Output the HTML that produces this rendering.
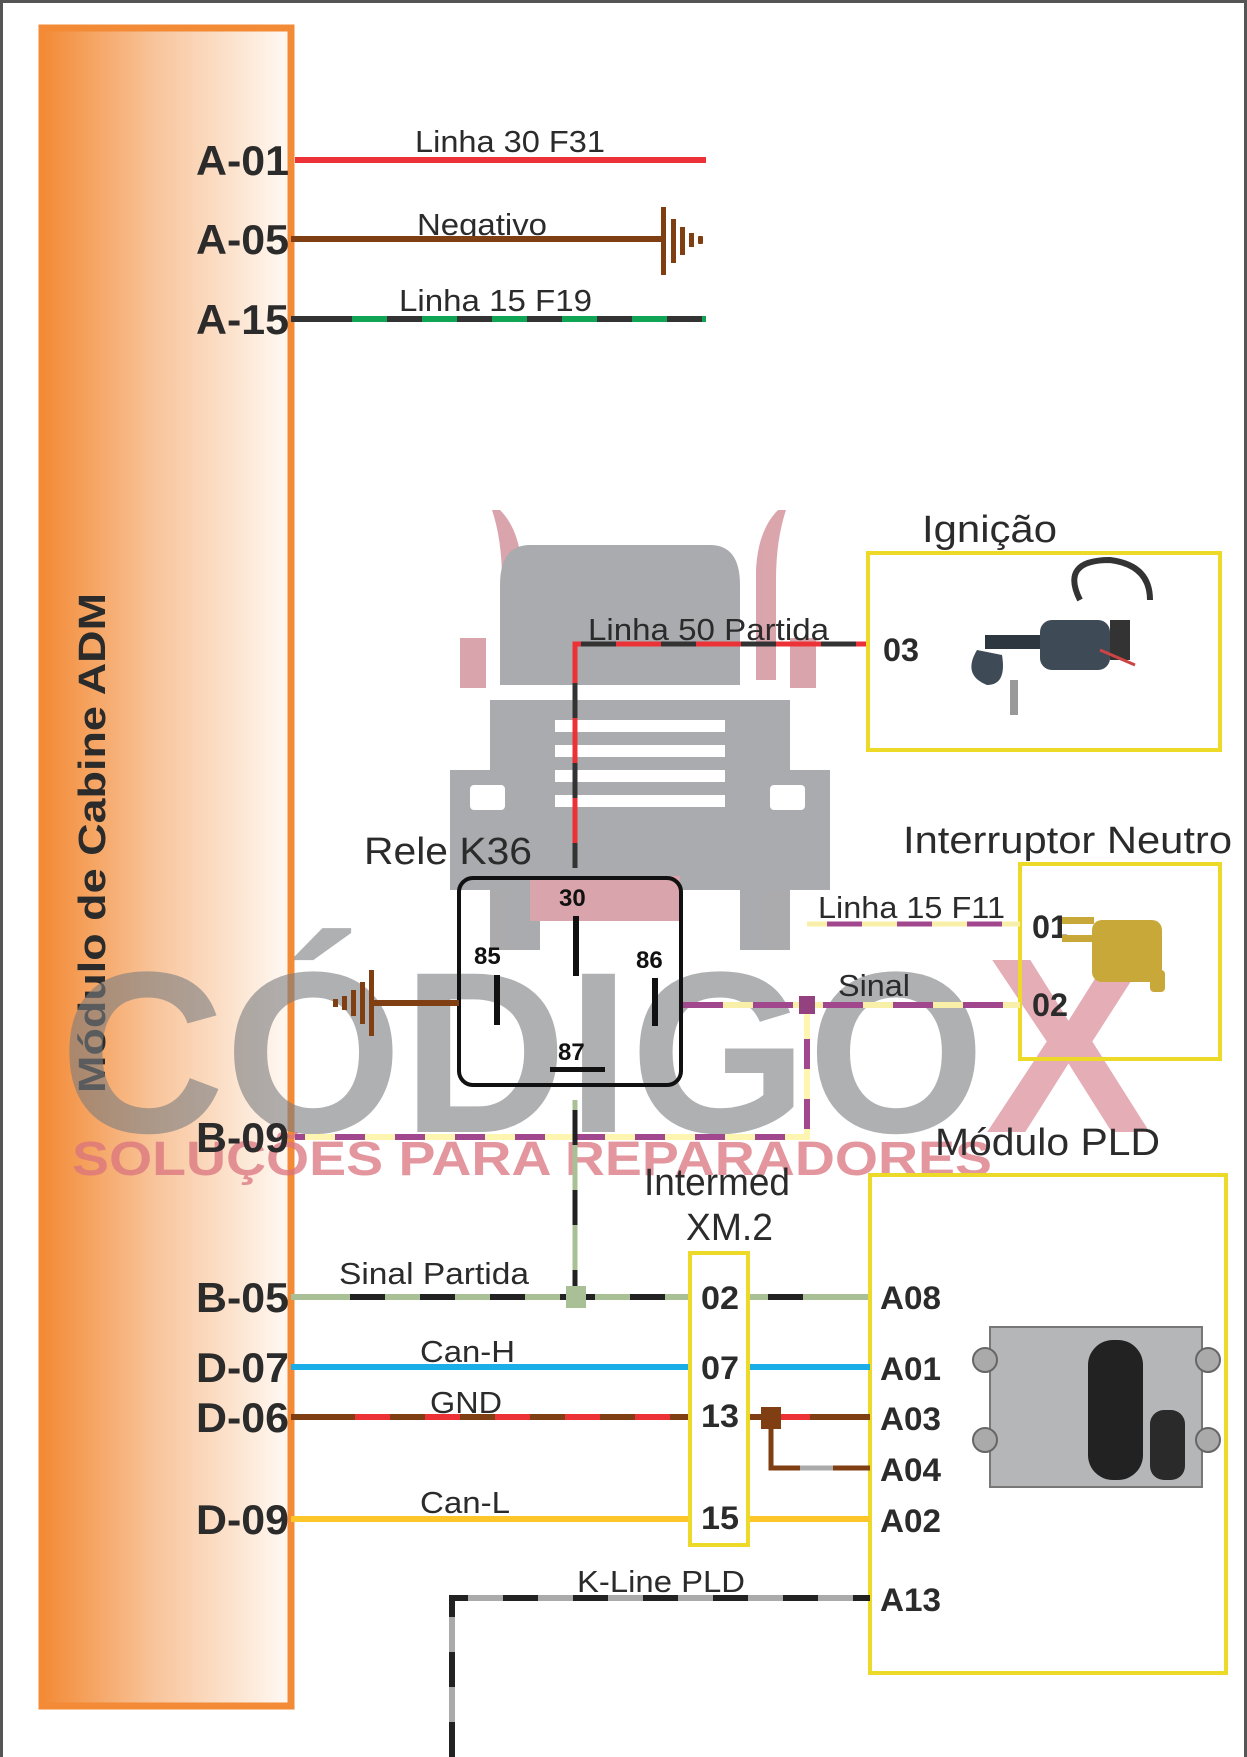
<!DOCTYPE html>
<html><head><meta charset="utf-8"><style>
html,body{margin:0;padding:0;background:#fff;}
svg{display:block;font-family:"Liberation Sans",Arial,sans-serif;}
</style></head><body>
<svg width="1247" height="1757" viewBox="0 0 1247 1757" xmlns="http://www.w3.org/2000/svg">
<defs>
<linearGradient id="og" x1="0" x2="1" y1="0" y2="0">
<stop offset="0" stop-color="#f38a35"/><stop offset="0.45" stop-color="#f8c49a"/><stop offset="1" stop-color="#fffaf5"/>
</linearGradient>
</defs>
<rect x="0" y="0" width="1247" height="1757" fill="#fff"/>
<rect x="1.5" y="1.5" width="1244" height="1760" fill="none" stroke="#555" stroke-width="3"/>

<rect x="42" y="28" width="249" height="1678" fill="url(#og)" stroke="#f38a35" stroke-width="7"/>
<text transform="translate(105,843) rotate(-90)" text-anchor="middle" font-size="38" font-weight="bold" fill="#2b2b2b" textLength="500" lengthAdjust="spacingAndGlyphs">Módulo de Cabine ADM</text>

<g opacity="0.95">
<path d="M500 510 q20 20 22 60 v110 h-20 v-100 q0-40-10-70z" fill="#d9a0a8"/>
<path d="M778 510 q-20 20 -22 60 v110 h20 v-100 q0-40 10-70z" fill="#d9a0a8"/>
<rect x="460" y="638" width="26" height="50" fill="#d9a0a8"/>
<rect x="790" y="638" width="26" height="50" fill="#d9a0a8"/>
<path d="M530 545 h180 q30 0 30 40 v100 h-240 v-100 q0-40 30-40z" fill="#a6a7aa"/>
<path d="M490 700 h300 v70 h40 v120 h-40 v60 h-50 v-60 h-200 v60 h-50 v-60 h-40 v-120 h40z" fill="#a6a7aa"/>
<rect x="555" y="720" width="170" height="12" fill="#fff"/>
<rect x="555" y="745" width="170" height="12" fill="#fff"/>
<rect x="555" y="770" width="170" height="12" fill="#fff"/>
<rect x="555" y="795" width="170" height="12" fill="#fff"/>
<rect x="470" y="785" width="35" height="25" rx="4" fill="#fff"/>
<rect x="770" y="785" width="35" height="25" rx="4" fill="#fff"/>
<rect x="530" y="876" width="150" height="45" fill="#d9a0a8"/>
</g>

<text x="60" y="1132" font-size="230" font-weight="bold" fill="#7a7b7e" fill-opacity="0.6" textLength="925" lengthAdjust="spacingAndGlyphs">CÓDIGO</text>
<text x="985" y="1132" font-size="250" font-weight="bold" fill="#d06a78" fill-opacity="0.55">X</text>
<text x="72" y="1175" font-size="48" font-weight="bold" fill="#d9737e" fill-opacity="0.75" textLength="920" lengthAdjust="spacingAndGlyphs">SOLUÇÕES PARA REPARADORES</text>

<g font-size="42" font-weight="bold" fill="#2b2b2b">
<text x="196" y="175" textLength="93" lengthAdjust="spacingAndGlyphs">A-01</text>
<text x="196" y="254" textLength="93" lengthAdjust="spacingAndGlyphs">A-05</text>
<text x="196" y="334" textLength="93" lengthAdjust="spacingAndGlyphs">A-15</text>
<text x="196" y="1152" textLength="93" lengthAdjust="spacingAndGlyphs">B-09</text>
<text x="196" y="1312" textLength="93" lengthAdjust="spacingAndGlyphs">B-05</text>
<text x="196" y="1382" textLength="93" lengthAdjust="spacingAndGlyphs">D-07</text>
<text x="196" y="1432" textLength="93" lengthAdjust="spacingAndGlyphs">D-06</text>
<text x="196" y="1534" textLength="93" lengthAdjust="spacingAndGlyphs">D-09</text>
</g>

<g font-size="31" fill="#2b2b2b">
<text x="415" y="152" textLength="190" lengthAdjust="spacingAndGlyphs">Linha 30 F31</text>
<text x="417" y="235" textLength="130" lengthAdjust="spacingAndGlyphs">Negativo</text>
<text x="399" y="311" textLength="193" lengthAdjust="spacingAndGlyphs">Linha 15 F19</text>
<text x="588" y="640" textLength="241" lengthAdjust="spacingAndGlyphs">Linha 50 Partida</text>
<text x="818" y="918" textLength="187" lengthAdjust="spacingAndGlyphs">Linha 15 F11</text>
<text x="838" y="996" textLength="72" lengthAdjust="spacingAndGlyphs">Sinal</text>
<text x="339" y="1284" textLength="190" lengthAdjust="spacingAndGlyphs">Sinal Partida</text>
<text x="420" y="1362" textLength="95" lengthAdjust="spacingAndGlyphs">Can-H</text>
<text x="430" y="1413" textLength="72" lengthAdjust="spacingAndGlyphs">GND</text>
<text x="420" y="1513" textLength="90" lengthAdjust="spacingAndGlyphs">Can-L</text>
<text x="577" y="1592" textLength="168" lengthAdjust="spacingAndGlyphs">K-Line PLD</text>
</g>
<g font-size="38" fill="#2b2b2b">
<text x="364" y="864" textLength="168" lengthAdjust="spacingAndGlyphs">Rele K36</text>
<text x="922" y="542" textLength="135" lengthAdjust="spacingAndGlyphs">Ignição</text>
<text x="903" y="853" textLength="329" lengthAdjust="spacingAndGlyphs">Interruptor Neutro</text>
<text x="935" y="1155" textLength="225" lengthAdjust="spacingAndGlyphs">Módulo PLD</text>
<text x="644" y="1195" textLength="146" lengthAdjust="spacingAndGlyphs">Intermed</text>
<text x="686" y="1240" textLength="87" lengthAdjust="spacingAndGlyphs">XM.2</text>
</g>

<line x1="295" y1="160" x2="706" y2="160" stroke="#ec3237" stroke-width="6"/>
<line x1="291" y1="239" x2="663" y2="239" stroke="#7f3f12" stroke-width="6"/>
<g fill="#7f3f12">
<rect x="661" y="207" width="5" height="68"/><rect x="671" y="219" width="5" height="44"/>
<rect x="680" y="227" width="5" height="28"/><rect x="689" y="233" width="5" height="14"/>
<rect x="698" y="236" width="5" height="8" rx="1"/>
</g>
<line x1="291" y1="319" x2="706" y2="319" stroke="#333" stroke-width="6"/>
<line x1="352" y1="319" x2="706" y2="319" stroke="#10a455" stroke-width="6" stroke-dasharray="35 35"/>

<path d="M575 868 V644 H868" fill="none" stroke="#ec3237" stroke-width="5"/>
<path d="M575 868 V644 H868" fill="none" stroke="#333" stroke-width="5" stroke-dasharray="35 45" stroke-dashoffset="10"/>

<rect x="868" y="553" width="352" height="197" fill="none" stroke="#ecd928" stroke-width="4"/>
<text x="883" y="661" font-size="32" font-weight="bold" fill="#2b2b2b" textLength="36" lengthAdjust="spacingAndGlyphs">03</text>
<g>
<path d="M1080 600 q-20-40 30-40 q40 5 40 40" fill="none" stroke="#333" stroke-width="6"/>
<rect x="1040" y="620" width="70" height="50" rx="12" fill="#3e4a55"/>
<rect x="1110" y="620" width="20" height="40" fill="#333"/>
<path d="M977 650 q-15 25 10 35 q20 0 15-30z" fill="#3e4a55"/>
<rect x="985" y="635" width="55" height="14" fill="#2c3740"/>
<rect x="1010" y="680" width="8" height="35" fill="#999"/>
<line x1="1100" y1="650" x2="1135" y2="665" stroke="#c44" stroke-width="3"/>
</g>

<rect x="459" y="878" width="222" height="207" rx="14" fill="none" stroke="#111" stroke-width="4"/>
<g font-size="24" font-weight="bold" fill="#111">
<text x="559" y="906">30</text><text x="474" y="964">85</text><text x="636" y="968">86</text><text x="558" y="1060">87</text>
</g>
<rect x="573" y="916" width="6" height="60" fill="#111"/>
<rect x="494" y="975" width="6" height="50" fill="#111"/>
<rect x="652" y="978" width="6" height="48" fill="#111"/>
<rect x="550" y="1067" width="55" height="5" fill="#111"/>

<line x1="372" y1="1003" x2="459" y2="1003" stroke="#7f3f12" stroke-width="6"/>
<g fill="#7f3f12">
<rect x="369" y="970" width="5" height="66"/><rect x="360" y="982" width="5" height="42"/>
<rect x="351" y="990" width="5" height="26"/><rect x="342" y="996" width="5" height="14"/>
<rect x="333" y="999" width="5" height="8"/>
</g>

<rect x="1020" y="864" width="200" height="195" fill="none" stroke="#ecd928" stroke-width="4"/>
<text x="1032" y="938" font-size="32" font-weight="bold" fill="#2b2b2b" textLength="36" lengthAdjust="spacingAndGlyphs">01</text>
<text x="1032" y="1016" font-size="32" font-weight="bold" fill="#2b2b2b" textLength="36" lengthAdjust="spacingAndGlyphs">02</text>
<g>
<rect x="1092" y="920" width="70" height="62" rx="10" fill="#c9a83a"/>
<rect x="1062" y="917" width="32" height="7" fill="#c9a83a"/>
<rect x="1062" y="935" width="32" height="7" fill="#c9a83a"/>
<rect x="1150" y="970" width="15" height="22" rx="4" fill="#c9a83a"/>
</g>
<line x1="807" y1="924" x2="1020" y2="924" stroke="#a0478e" stroke-width="5"/>
<line x1="807" y1="924" x2="1020" y2="924" stroke="#f8f0a8" stroke-width="5" stroke-dasharray="35 35" stroke-dashoffset="-55"/>

<line x1="683" y1="1005" x2="1020" y2="1005" stroke="#a0478e" stroke-width="6"/>
<line x1="683" y1="1005" x2="1020" y2="1005" stroke="#f8f0a8" stroke-width="6" stroke-dasharray="30 40" stroke-dashoffset="-40"/>
<path d="M295 1137 H807 V1005" fill="none" stroke="#a0478e" stroke-width="6"/>
<path d="M295 1137 H807 V1005" fill="none" stroke="#fdf5b0" stroke-width="6" stroke-dasharray="30 30" stroke-dashoffset="-10"/>
<rect x="799" y="996" width="16" height="18" fill="#93417f"/>

<line x1="575" y1="1100" x2="575" y2="1297" stroke="#a9c096" stroke-width="5"/>
<line x1="575" y1="1100" x2="575" y2="1297" stroke="#222" stroke-width="5" stroke-dasharray="35 45" stroke-dashoffset="-10"/>

<rect x="870" y="1175" width="356" height="498" fill="none" stroke="#ecd928" stroke-width="4"/>
<g>
<rect x="990" y="1327" width="212" height="160" fill="#b4b6b8" stroke="#777" stroke-width="2"/>
<circle cx="985" cy="1360" r="12" fill="#aaa" stroke="#666" stroke-width="2"/>
<circle cx="985" cy="1440" r="12" fill="#aaa" stroke="#666" stroke-width="2"/>
<circle cx="1208" cy="1360" r="12" fill="#aaa" stroke="#666" stroke-width="2"/>
<circle cx="1208" cy="1440" r="12" fill="#aaa" stroke="#666" stroke-width="2"/>
<rect x="1088" y="1340" width="55" height="140" rx="25" fill="#222"/>
<rect x="1150" y="1410" width="35" height="70" rx="14" fill="#2a2a2a"/>
</g>
<g font-size="32" font-weight="bold" fill="#2b2b2b">
<text x="880" y="1309" textLength="61" lengthAdjust="spacingAndGlyphs">A08</text>
<text x="880" y="1380" textLength="61" lengthAdjust="spacingAndGlyphs">A01</text>
<text x="880" y="1430" textLength="61" lengthAdjust="spacingAndGlyphs">A03</text>
<text x="880" y="1481" textLength="61" lengthAdjust="spacingAndGlyphs">A04</text>
<text x="880" y="1532" textLength="61" lengthAdjust="spacingAndGlyphs">A02</text>
<text x="880" y="1611" textLength="61" lengthAdjust="spacingAndGlyphs">A13</text>
</g>

<rect x="690" y="1253" width="58" height="292" fill="#fff" stroke="#ecd928" stroke-width="4"/>
<g font-size="32" font-weight="bold" fill="#2b2b2b">
<text x="701" y="1309" textLength="38" lengthAdjust="spacingAndGlyphs">02</text>
<text x="701" y="1379" textLength="38" lengthAdjust="spacingAndGlyphs">07</text>
<text x="701" y="1427" textLength="38" lengthAdjust="spacingAndGlyphs">13</text>
<text x="701" y="1529" textLength="38" lengthAdjust="spacingAndGlyphs">15</text>
</g>

<line x1="291" y1="1297" x2="688" y2="1297" stroke="#a9c096" stroke-width="6"/>
<line x1="350" y1="1297" x2="688" y2="1297" stroke="#222" stroke-width="6" stroke-dasharray="35 35"/>
<line x1="750" y1="1297" x2="868" y2="1297" stroke="#a9c096" stroke-width="6"/>
<line x1="768" y1="1297" x2="803" y2="1297" stroke="#222" stroke-width="6"/>
<rect x="566" y="1286" width="20" height="22" fill="#a9c096"/>

<line x1="291" y1="1367" x2="688" y2="1367" stroke="#1aaee8" stroke-width="6"/>
<line x1="750" y1="1367" x2="870" y2="1367" stroke="#1aaee8" stroke-width="6"/>
<line x1="291" y1="1417" x2="688" y2="1417" stroke="#7f3f12" stroke-width="6"/>
<line x1="355" y1="1417" x2="688" y2="1417" stroke="#ec3237" stroke-width="6" stroke-dasharray="35 35"/>
<line x1="750" y1="1417" x2="870" y2="1417" stroke="#7f3f12" stroke-width="6"/>
<line x1="780" y1="1417" x2="810" y2="1417" stroke="#ec3237" stroke-width="6"/>
<path d="M771 1417 V1468 H870" fill="none" stroke="#7f3f12" stroke-width="5"/>
<line x1="800" y1="1468" x2="833" y2="1468" stroke="#aaa" stroke-width="5"/>
<rect x="761" y="1407" width="20" height="22" fill="#7f3f12"/>
<line x1="291" y1="1519" x2="688" y2="1519" stroke="#fcc52a" stroke-width="6"/>
<line x1="750" y1="1519" x2="870" y2="1519" stroke="#fcc52a" stroke-width="6"/>
<path d="M452 1757 V1598 H870" fill="none" stroke="#aaa" stroke-width="6"/>
<path d="M452 1757 V1598 H870" fill="none" stroke="#222" stroke-width="6" stroke-dasharray="35 35"/>
</svg>
</body></html>
